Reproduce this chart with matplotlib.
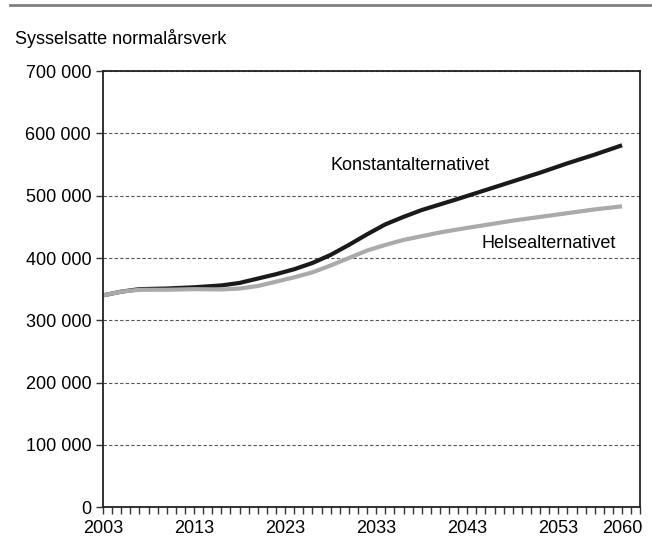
import matplotlib
matplotlib.use("Agg")
import matplotlib.pyplot as plt
from matplotlib.lines import Line2D
from matplotlib.ticker import FuncFormatter, MultipleLocator

plt.rcParams['font.family'] = ['Liberation Sans', 'DejaVu Sans']

# Data (thousands of full-time equivalents)
years = [2003, 2005, 2007, 2010, 2013, 2016, 2018, 2020, 2022, 2024, 2026, 2028, 2030,
         2032, 2034, 2036, 2038, 2040, 2042, 2045, 2048, 2051, 2054, 2057, 2060]
konstant = [340, 346, 350, 351, 353, 356, 360, 367, 374, 382, 392, 405, 421,
            438, 454, 466, 477, 486, 495, 509, 523, 537, 552, 566, 581]
helse = [340, 346, 349, 349, 350, 349.5, 351, 355, 362, 369, 377, 388, 400,
         412, 421, 429, 435, 441, 446, 453, 460, 466, 472, 478, 483]
xtick_years = [2003, 2013, 2023, 2033, 2043, 2053, 2060]
ytick_vals = [0, 100000, 200000, 300000, 400000, 500000, 600000, 700000]

fig = plt.figure(figsize=(6.52, 5.43), dpi=100)
ax = fig.add_axes([0.158, 0.066, 0.824, 0.803])

ax.plot(years, [v * 1000 for v in konstant], color='#1a1a1a', linewidth=3,
        solid_capstyle='butt', solid_joinstyle='round')
ax.plot(years, [v * 1000 for v in helse], color='#aaaaaa', linewidth=3,
        solid_capstyle='butt', solid_joinstyle='round')

ax.set_xlim(2003, 2062)
ax.set_ylim(0, 700000)
ax.set_yticks(ytick_vals)
ax.yaxis.set_major_formatter(FuncFormatter(lambda v, p: '{:,.0f}'.format(v).replace(',', ' ')))
ax.set_xticks(xtick_years)
ax.xaxis.set_minor_locator(MultipleLocator(1))
ax.tick_params(axis='both', which='major', labelsize=13, length=5, width=1, color='#333333')
ax.tick_params(axis='x', which='minor', length=5, width=1, color='#333333')
ax.tick_params(axis='x', which='major', pad=4)

ax.grid(axis='y', linestyle=(0, (3, 2)), color='#555555', linewidth=0.8)
for sp in ax.spines.values():
    sp.set_color('#222222')
    sp.set_linewidth(1.3)

ax.text(2028, 549000, 'Konstantalternativet', fontsize=13, va='center', ha='left')
ax.text(2059.3, 424000, 'Helsealternativet', fontsize=13, va='center', ha='right')

fig.text(0.023, 0.93, 'Sysselsatte normalårsverk', fontsize=13, va='center', ha='left')
fig.add_artist(Line2D([0.015, 1.0], [0.991, 0.991], color='#7f7f7f', linewidth=2))

fig.savefig('out.png', dpi=100)
